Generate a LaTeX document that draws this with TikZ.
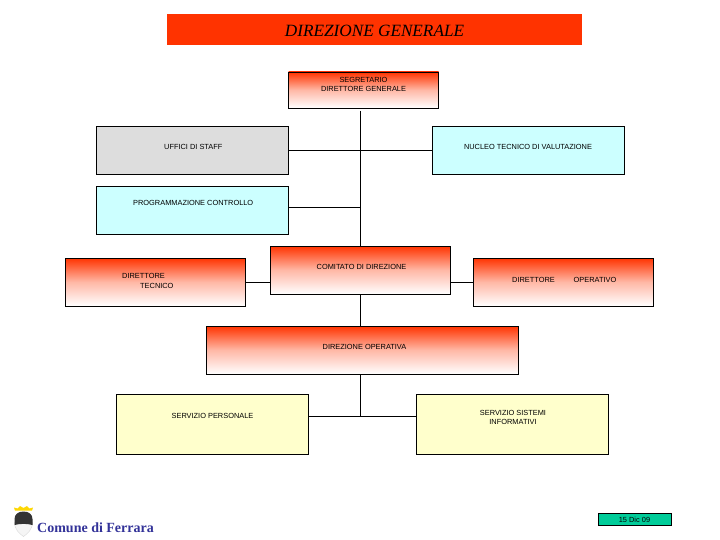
\documentclass[tikz,border=0pt]{standalone}
\usepackage{fontspec}
\setmainfont{Liberation Sans}
\newfontfamily\serifface{Liberation Serif}
\definecolor{titlered}{HTML}{FF3300}
\definecolor{staffgray}{HTML}{DDDDDD}
\definecolor{palecyan}{HTML}{CCFFFF}
\definecolor{paleyellow}{HTML}{FFFFCC}
\definecolor{dategreen}{HTML}{00CC99}
\definecolor{ferrarablue}{HTML}{333399}
\tikzset{
  box/.style={draw=black,line width=0.9pt,anchor=north west,inner sep=0pt,outer sep=0pt},
  redbox/.style={box,top color=titlered,bottom color=white,middle color=titlered!35!white},
  graybox/.style={box,fill=staffgray},
  cyanbox/.style={box,fill=palecyan},
  yellowbox/.style={box,fill=paleyellow},
  lbl/.style={font=\fontsize{7.4}{9}\selectfont,inner sep=0pt,text=black,align=center},
  link/.style={draw=black,line width=0.8pt}
}
\begin{document}
\begin{tikzpicture}[x=1pt,y=-1pt]
\useasboundingbox (0,0) rectangle (720,540);
\fill[white] (0,0) rectangle (720,540);
% title
\node[anchor=north west,fill=titlered,minimum width=415pt,minimum height=31pt,inner sep=0pt] (title) at (167,14) {};
\node[font=\serifface\itshape\fontsize{17.2}{18}\selectfont,inner sep=0pt] (titletext) at (374.5,30.5) {DIREZIONE GENERALE};
% boxes
\node[redbox,minimum width=150pt,minimum height=36pt] (seg) at (288.5,72) {};
\node[graybox,minimum width=192pt,minimum height=48pt] (staff) at (96,126) {};
\node[cyanbox,minimum width=192pt,minimum height=48pt] (nucleo) at (432,126) {};
\node[cyanbox,minimum width=192pt,minimum height=48pt] (prog) at (96,186) {};
\node[redbox,minimum width=180pt,minimum height=48pt] (comitato) at (270,246) {};
\node[redbox,minimum width=180pt,minimum height=48pt] (dtec) at (65,258) {};
\node[redbox,minimum width=180pt,minimum height=48pt] (dope) at (473,258) {};
\node[redbox,minimum width=312pt,minimum height=48pt] (dirop) at (206.5,326) {};
\node[yellowbox,minimum width=192pt,minimum height=60pt] (pers) at (116,394) {};
\node[yellowbox,minimum width=192pt,minimum height=60pt] (sist) at (416,394) {};
\node[box,fill=dategreen,minimum width=73pt,minimum height=12pt,line width=0.7pt] (date) at (598.5,513.5) {};
% connector anchors
\coordinate (trunktop) at (360.5,111);
\coordinate (t1) at (360.5,150);
\coordinate (t2) at (360.5,207);
\coordinate (t3) at (360.5,416.5);
\coordinate (side) at (0,282);
% connectors
\draw[link] (trunktop) -- (trunktop |- comitato.north);
\draw[link] (staff.east) -- (nucleo.west);
\draw[link] (prog.east |- t2) -- (t2);
\draw[link] (dtec.east |- side) -- (comitato.west |- side);
\draw[link] (comitato.east |- side) -- (dope.west |- side);
\draw[link] (t1 |- comitato.south) -- (t1 |- dirop.north);
\draw[link] (t1 |- dirop.south) -- (t3);
\draw[link] (pers.east |- t3) -- (sist.west |- t3);
% labels
\node[lbl] (tseg) at (363.5,84.5) {SEGRETARIO\\[-0.1pt]DIRETTORE GENERALE};
\node[lbl,anchor=west] (tstaff) at (164,146.5) {UFFICI DI STAFF};
\node[lbl] (tnuc) at (528,146.5) {NUCLEO TECNICO DI VALUTAZIONE};
\node[lbl,anchor=west] (tprog) at (133,202.5) {PROGRAMMAZIONE CONTROLLO};
\node[lbl] (tcom) at (361.5,266.5) {COMITATO DI DIREZIONE};
\node[lbl,anchor=west] (tdt1) at (122,276) {DIRETTORE};
\node[lbl,anchor=west] (tdt2) at (140,286) {TECNICO};
\node[lbl,anchor=west] (tdo1) at (512,279.5) {DIRETTORE};
\node[lbl,anchor=west] (tdo2) at (573.5,279.5) {OPERATIVO};
\node[lbl] (tdirop) at (364.5,346.5) {DIREZIONE OPERATIVA};
\node[lbl] (tpers) at (212.5,415.5) {SERVIZIO PERSONALE};
\node[lbl] (tsist) at (513,417.5) {SERVIZIO SISTEMI\\[0.5pt]INFORMATIVI};
\node[lbl] (tdate) at (634.5,519.5) {15 Dic 09};
% logo
\fill[black!4] (14.5,522) -- (32.5,522) .. controls (32.5,530) and (27,534) .. (23.5,536.5) .. controls (20,534) and (14.5,530) .. (14.5,522) -- cycle;
\draw[black!15,line width=0.4pt] (14.5,522) .. controls (14.5,530) and (20,534) .. (23.5,536.5) .. controls (27,534) and (32.5,530) .. (32.5,522);
\fill[black!80] (14.5,519) .. controls (14.5,514.5) and (18,511.5) .. (23.5,511.5) .. controls (29,511.5) and (32.5,514.5) .. (32.5,519) -- (32.5,525) .. controls (27,523.5) and (20,523.5) .. (14.5,525) -- cycle;
\fill[yellow!75!orange] (15,510.5) -- (14,507.5) -- (17.5,508.5) -- (20,506) -- (23.5,508) -- (27,506) -- (29.5,508.5) -- (33,507.5) -- (32,510.5) -- cycle;
\node[font=\serifface\bfseries\fontsize{14}{15}\selectfont,text=ferrarablue,anchor=west,inner sep=0pt] (comune) at (37,527.5) {Comune di Ferrara};
\end{tikzpicture}
\end{document}
